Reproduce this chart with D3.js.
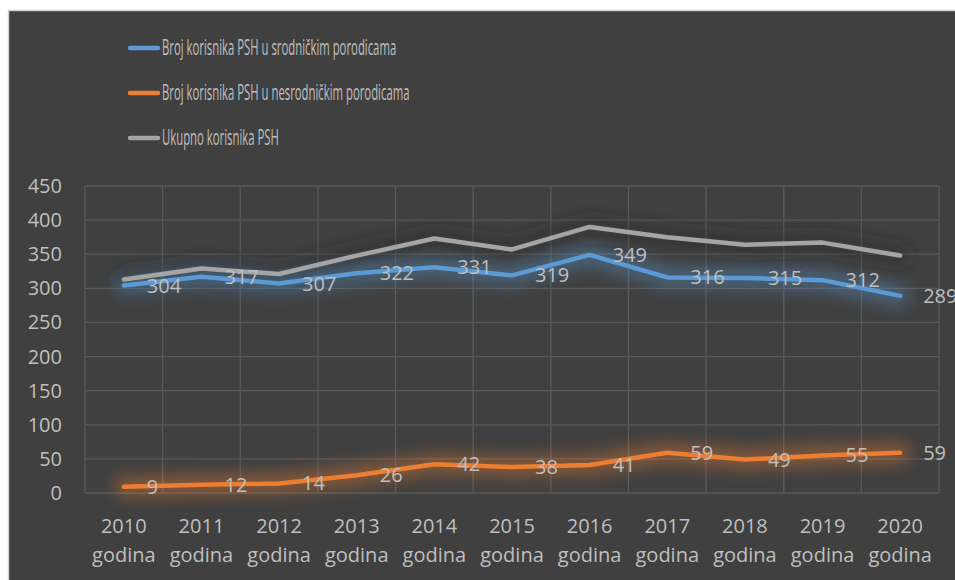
<!DOCTYPE html>
<html>
<head>
<meta charset="utf-8">
<script src="https://cdn.jsdelivr.net/npm/d3@7"></script>
<style>
  body { margin: 0; background: #fff; }
  svg { display: block; font-family: "Open Sans", Lato, sans-serif; }
</style>
</head>
<body>
<svg id="chart" width="955" height="580"></svg>
<script>
const years = ["2010", "2011", "2012", "2013", "2014", "2015", "2016", "2017", "2018", "2019", "2020"];
const srodnicke = [304, 317, 307, 322, 331, 319, 349, 316, 315, 312, 289];
const nesrodnicke = [9, 12, 14, 26, 42, 38, 41, 59, 49, 55, 59];
const ukupno = [313, 329, 321, 348, 373, 357, 390, 375, 364, 367, 348];
const yTicks = [0, 50, 100, 150, 200, 250, 300, 350, 400, 450];

const series = [
  { name: "Ukupno korisnika PSH", values: ukupno, color: "#a5a5a5", glow: "#2a2a2a", labels: false },
  { name: "Broj korisnika PSH u srodničkim porodicama", values: srodnicke, color: "#5b9bd5", glow: "#5b9bd5", labels: true },
  { name: "Broj korisnika PSH u nesrodničkim porodicama", values: nesrodnicke, color: "#ed7d31", glow: "#ed7d31", labels: true }
];
const legendOrder = [series[1], series[2], series[0]];

const svg = d3.select("#chart");
const textColor = "#bfbfbf";
const gridColor = "#5a5a5a";

// chart background
svg.append("rect")
  .attr("x", 8.5).attr("y", 10.5)
  .attr("width", 960).attr("height", 600)
  .attr("fill", "#404040")
  .attr("stroke", "#d0d0d0")
  .attr("stroke-width", 1.5);

const x = d3.scaleBand().domain(years).range([85, 939]);
const y = d3.scaleLinear().domain([0, 450]).range([493, 186]);

// grid
const grid = svg.append("g").attr("stroke", gridColor).attr("stroke-width", 1.3);
grid.selectAll("line.h")
  .data(yTicks)
  .join("line")
  .attr("class", "h")
  .attr("x1", 85).attr("x2", 939)
  .attr("y1", d => y(d)).attr("y2", d => y(d));
grid.selectAll("line.v")
  .data(years.concat(["end"]))
  .join("line")
  .attr("class", "v")
  .attr("x1", d => d === "end" ? 939 : x(d))
  .attr("x2", d => d === "end" ? 939 : x(d))
  .attr("y1", y(450)).attr("y2", y(0));

// y axis labels
svg.append("g")
  .selectAll("text")
  .data(yTicks)
  .join("text")
  .attr("x", 62)
  .attr("y", d => y(d))
  .attr("dy", "0.35em")
  .attr("text-anchor", "end")
  .attr("fill", textColor)
  .attr("font-size", 20)
  .text(d => d);

// x axis labels
const xl = svg.append("g")
  .selectAll("text")
  .data(years)
  .join("text")
  .attr("text-anchor", "middle")
  .attr("fill", textColor)
  .attr("font-size", 20);
xl.append("tspan")
  .attr("x", d => x(d) + x.bandwidth() / 2)
  .attr("y", 533)
  .text(d => d);
xl.append("tspan")
  .attr("x", d => x(d) + x.bandwidth() / 2)
  .attr("y", 562)
  .text("godina");

// glow filter
const defs = svg.append("defs");
defs.append("filter")
  .attr("id", "glow")
  .attr("x", "-20%").attr("y", "-100%")
  .attr("width", "140%").attr("height", "300%")
  .append("feGaussianBlur")
  .attr("stdDeviation", 8);

const line = d3.line()
  .x((d, i) => x(years[i]) + x.bandwidth() / 2)
  .y(d => y(d));

series.forEach(s => {
  svg.append("path")
    .attr("d", line(s.values))
    .attr("fill", "none")
    .attr("stroke", s.glow)
    .attr("stroke-opacity", 0.4)
    .attr("stroke-width", 20)
    .attr("stroke-linejoin", "round")
    .attr("stroke-linecap", "round")
    .attr("filter", "url(#glow)");
});

series.forEach(s => {
  svg.append("path")
    .attr("d", line(s.values))
    .attr("fill", "none")
    .attr("stroke", s.color)
    .attr("stroke-width", 4.5)
    .attr("stroke-linejoin", "round")
    .attr("stroke-linecap", "round");
});

// data labels
series.filter(s => s.labels).forEach(s => {
  svg.append("g")
    .selectAll("text")
    .data(s.values)
    .join("text")
    .attr("x", (d, i) => x(years[i]) + x.bandwidth() / 2 + 23)
    .attr("y", d => y(d))
    .attr("dy", "0.35em")
    .attr("fill", textColor)
    .attr("font-size", 20)
    .text(d => d);
});

// legend
const legend = svg.append("g")
  .selectAll("g")
  .data(legendOrder)
  .join("g")
  .attr("transform", (d, i) => `translate(130,${48 + i * 45})`);
legend.append("line")
  .attr("x1", 0).attr("x2", 28)
  .attr("stroke", d => d.color)
  .attr("stroke-width", 4.5)
  .attr("stroke-linecap", "round");
legend.append("text")
  .attr("transform", "translate(32,0) scale(0.54,1)")
  .attr("dy", "0.35em")
  .attr("fill", textColor)
  .attr("font-size", 21)
  .text(d => d.name);
</script>
</body>
</html>
